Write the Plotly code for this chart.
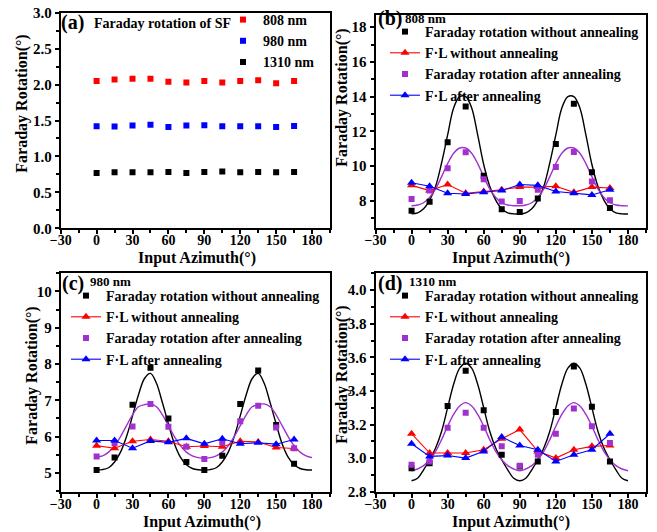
import plotly.graph_objects as go

W, H = 657, 532
FONT = "Liberation Serif"

# ---------------- data ----------------
angles = [0, 15, 30, 45, 60, 75, 90, 105, 120, 135, 150, 165]
fit_x = list(range(0, 181, 5))

# (a) Faraday rotation of SF
a_808 = [2.05, 2.07, 2.08, 2.08, 2.04, 2.03, 2.05, 2.03, 2.05, 2.06, 2.02, 2.05]
a_980 = [1.42, 1.415, 1.43, 1.44, 1.41, 1.43, 1.435, 1.42, 1.42, 1.42, 1.41, 1.425]
a_1310 = [0.77, 0.78, 0.78, 0.78, 0.785, 0.77, 0.785, 0.79, 0.78, 0.785, 0.78, 0.785]

# (b) 808 nm
b_fr_wo = [7.44, 7.96, 11.38, 13.43, 9.46, 7.52, 7.37, 8.15, 11.28, 13.59, 9.65, 7.6]
b_fl_wo = [8.9, 8.6, 8.95, 8.45, 8.55, 8.65, 8.8, 8.8, 8.85, 8.5, 8.8, 8.75]
b_fr_an = [8.12, 8.6, 9.88, 10.8, 9.25, 7.97, 8.0, 8.65, 9.95, 10.82, 9.12, 8.05]
b_fl_an = [9.05, 8.85, 8.45, 8.4, 8.5, 8.6, 8.95, 8.9, 8.55, 8.45, 8.35, 8.65]
b_fit_wo = [7.26, 7.32, 7.55, 8.05, 8.85, 10.2, 11.8, 13.35, 14.0, 14.0, 13.35, 11.8,
            10.1, 8.85, 8.05, 7.55, 7.32, 7.26, 7.26, 7.32, 7.55, 8.05, 8.85, 10.2,
            11.8, 13.35, 14.0, 14.0, 13.35, 11.8, 10.1, 8.85, 8.05, 7.55, 7.32, 7.26, 7.25]
b_fit_an = [7.73, 7.77, 7.9, 8.2, 8.7, 9.4, 10.15, 10.75, 11.05, 11.05, 10.75, 10.15,
            9.4, 8.7, 8.2, 7.9, 7.77, 7.73, 7.73, 7.77, 7.9, 8.2, 8.7, 9.4,
            10.15, 10.75, 11.05, 11.05, 10.75, 10.15, 9.4, 8.7, 8.2, 7.9, 7.77, 7.73, 7.72]

# (c) 980 nm
c_fr_wo = [5.08, 5.42, 6.88, 7.9, 6.5, 5.3, 5.08, 5.47, 6.9, 7.82, 6.32, 5.25]
c_fl_wo = [5.75, 5.68, 5.87, 5.92, 5.87, 5.72, 5.74, 5.72, 5.87, 5.85, 5.7, 5.67]
c_fr_an = [5.45, 5.82, 6.28, 6.9, 6.27, 5.72, 5.38, 5.83, 6.42, 6.85, 6.25, 5.68]
c_fl_an = [5.89, 5.89, 5.68, 5.88, 5.84, 5.95, 5.8, 5.94, 5.8, 5.83, 5.79, 5.92]
c_fit_wo = [5.08, 5.09, 5.14, 5.3, 5.57, 6.0, 6.57, 7.15, 7.6, 7.74, 7.47, 6.93,
            6.35, 5.8, 5.43, 5.22, 5.12, 5.085, 5.08, 5.09, 5.14, 5.3, 5.57, 6.0,
            6.57, 7.15, 7.6, 7.74, 7.47, 6.93, 6.35, 5.8, 5.43, 5.22, 5.12, 5.085, 5.08]
c_fit_an = [5.44, 5.47, 5.57, 5.75, 6.0, 6.3, 6.6, 6.82, 6.88, 6.9, 6.82, 6.6,
            6.3, 6.0, 5.75, 5.57, 5.47, 5.42, 5.4, 5.42, 5.47, 5.57, 5.75, 6.0,
            6.3, 6.6, 6.82, 6.88, 6.9, 6.82, 6.6, 6.3, 6.0, 5.75, 5.57, 5.47, 5.42]

# (d) 1310 nm
d_fr_wo = [2.94, 2.97, 3.31, 3.52, 3.285, 3.02, 2.95, 2.98, 3.275, 3.545, 3.305, 2.98]
d_fl_wo = [3.145, 3.03, 3.03, 3.03, 3.05, 3.115, 3.17, 3.04, 3.0, 3.05, 3.07, 3.075]
d_fr_an = [2.96, 2.98, 3.18, 3.27, 3.18, 3.07, 2.955, 3.02, 3.145, 3.295, 3.19, 3.09]
d_fl_an = [3.085, 3.01, 3.015, 3.0, 3.04, 3.125, 3.075, 3.05, 2.98, 3.02, 3.05, 3.145]
d_fit_wo = [2.865, 2.88, 2.93, 2.99, 3.06, 3.16, 3.3, 3.44, 3.535, 3.565, 3.535, 3.44,
            3.3, 3.16, 3.06, 2.99, 2.93, 2.88, 2.865, 2.88, 2.93, 2.99, 3.06, 3.16,
            3.3, 3.44, 3.535, 3.565, 3.535, 3.44, 3.3, 3.16, 3.06, 2.99, 2.93, 2.88, 2.865]
d_fit_an = [2.925, 2.935, 2.955, 2.99, 3.04, 3.11, 3.19, 3.26, 3.31, 3.33, 3.31, 3.26,
            3.19, 3.11, 3.04, 2.99, 2.955, 2.935, 2.925, 2.935, 2.955, 2.99, 3.04, 3.11,
            3.19, 3.26, 3.31, 3.33, 3.31, 3.26, 3.19, 3.11, 3.04, 2.99, 2.955, 2.935, 2.925]

series_names = ["Faraday rotation without annealing", "F\u00b7L without annealing",
                "Faraday rotation after annealing", "F\u00b7L after annealing"]
a_names = ["808 nm", "980 nm", "1310 nm"]

RED, BLUE, BLACK, PURPLE = "#FF0000", "#0000FF", "#000000", "#A030D0"

fig = go.Figure()

for name, vals, col in zip(a_names, [a_808, a_980, a_1310], [RED, BLUE, BLACK]):
    fig.add_trace(go.Scatter(x=angles, y=vals, mode="markers", name=name,
                             marker=dict(symbol="square", size=6, color=col),
                             xaxis="x", yaxis="y", legend="legend"))

panels = [
    ("x2", "y2", "legend2", b_fr_wo, b_fl_wo, b_fr_an, b_fl_an, b_fit_wo, b_fit_an),
    ("x3", "y3", "legend3", c_fr_wo, c_fl_wo, c_fr_an, c_fl_an, c_fit_wo, c_fit_an),
    ("x4", "y4", "legend4", d_fr_wo, d_fl_wo, d_fr_an, d_fl_an, d_fit_wo, d_fit_an),
]
for xa, ya, lg, fr_wo, fl_wo, fr_an, fl_an, fit_wo, fit_an in panels:
    fig.add_trace(go.Scatter(x=fit_x, y=fit_wo, mode="lines", line=dict(color=BLACK, width=1.4, shape="spline"),
                             showlegend=False, xaxis=xa, yaxis=ya))
    fig.add_trace(go.Scatter(x=fit_x, y=fit_an, mode="lines", line=dict(color=PURPLE, width=1.4, shape="spline"),
                             showlegend=False, xaxis=xa, yaxis=ya))
    fig.add_trace(go.Scatter(x=angles, y=fr_wo, mode="markers", name=series_names[0],
                             marker=dict(symbol="square", size=6, color=BLACK),
                             xaxis=xa, yaxis=ya, legend=lg))
    fig.add_trace(go.Scatter(x=angles, y=fl_wo, mode="lines+markers", name=series_names[1],
                             line=dict(color=RED, width=1.1),
                             marker=dict(symbol="triangle-up", size=8, color=RED),
                             xaxis=xa, yaxis=ya, legend=lg))
    fig.add_trace(go.Scatter(x=angles, y=fr_an, mode="markers", name=series_names[2],
                             marker=dict(symbol="square", size=6, color=PURPLE),
                             xaxis=xa, yaxis=ya, legend=lg))
    fig.add_trace(go.Scatter(x=angles, y=fl_an, mode="lines+markers", name=series_names[3],
                             line=dict(color=BLUE, width=1.1),
                             marker=dict(symbol="triangle-up", size=8, color=BLUE),
                             xaxis=xa, yaxis=ya, legend=lg))


def px(x):
    return x / W


def py(y):
    return 1 - y / H


tickfont = dict(family=FONT, size=15, color="black", weight="bold")
xtickfont = dict(family=FONT, size=14, color="black", weight="bold")
LW = 2


def xaxis(dom, anchor):
    return dict(domain=dom, anchor=anchor, range=[-30, 195], tickmode="linear", tick0=-30, dtick=30,
                showline=True, linecolor="#000000", linewidth=LW, mirror=True,
                ticks="outside", ticklen=4, tickwidth=LW, tickcolor="#000000", ticklabelstandoff=-6,
                minor=dict(ticks="outside", ticklen=3, tickcolor="#000000", tickwidth=1.5, dtick=15, tick0=-30),
                tickfont=xtickfont, showgrid=False, zeroline=False)


def yaxis(dom, anchor, rng, dtick, mdtick, fmt):
    return dict(domain=dom, anchor=anchor, range=rng, tickmode="linear", dtick=dtick, tick0=0, tickformat=fmt,
                showline=True, linecolor="#000000", linewidth=LW, mirror=True,
                ticks="outside", ticklen=4, tickwidth=LW, tickcolor="#000000",
                minor=dict(ticks="outside", ticklen=3, tickcolor="#000000", tickwidth=1.5, dtick=mdtick, tick0=0),
                tickfont=tickfont, showgrid=False, zeroline=False)


xa_dom = [px(60.7), px(330)]
xb_dom = [px(375.5), px(646)]
top_a = [py(228.3), py(12.7)]
top_b = [py(228.3), py(15)]
bot = [py(491.7), py(273.3)]

legfont = dict(family=FONT, size=14, color="black", weight="bold")


def legend(x, y):
    return dict(x=px(x), y=py(y), xanchor="left", yanchor="top", font=legfont,
                bgcolor="rgba(0,0,0,0)", borderwidth=0, tracegroupgap=0, itemwidth=30)


fig.update_layout(
    width=W, height=H, margin=dict(l=0, r=0, t=0, b=0, pad=0, autoexpand=False),
    paper_bgcolor="white", plot_bgcolor="white",
    xaxis=xaxis(xa_dom, "y"), yaxis=yaxis(top_a, "x", [0, 3.0], 0.5, 0.25, ".1f"),
    xaxis2=xaxis(xb_dom, "y2"), yaxis2=yaxis(top_b, "x2", [6.43, 18.7], 2, 1, "d"),
    xaxis3=xaxis(xa_dom, "y3"), yaxis3=yaxis(bot, "x3", [4.48, 10.5], 1, 0.5, "d"),
    xaxis4=xaxis(xb_dom, "y4"), yaxis4=yaxis(bot, "x4", [2.8, 4.1], 0.2, 0.1, ".1f"),
    legend=legend(223, 4),
    legend2=legend(385, 16),
    legend3=legend(66, 280),
    legend4=legend(385, 280),
    showlegend=True,
)

ann = []


def txt(x, y, s, size, angle=0):
    ann.append(dict(x=px(x), y=py(y), xref="paper", yref="paper", text=s, showarrow=False,
                    xanchor="center", yanchor="middle", textangle=angle,
                    font=dict(family=FONT, size=size, color="black", weight="bold")))


txt(197, 258, "Input Azimuth(\u00b0)", 16)
txt(511, 258, "Input Azimuth(\u00b0)", 16)
txt(202, 521.5, "Input Azimuth(\u00b0)", 16)
txt(511, 521.5, "Input Azimuth(\u00b0)", 16)
txt(21.7, 104, "Faraday Rotation(\u00b0)", 16, -90)
txt(341.7, 98, "Faraday Rotation(\u00b0)", 16, -90)
txt(31.7, 376, "Faraday Rotation(\u00b0)", 16, -90)
txt(341.7, 375, "Faraday Rotation(\u00b0)", 16, -90)
txt(72, 22.7, "(a)", 20)
txt(162.5, 23.3, "Faraday rotation of SF", 14)
txt(390, 19, "(b)", 20)
txt(425, 18, "808 nm", 13)
txt(72.5, 283.3, "(c)", 20)
txt(110.5, 281.7, "980 nm", 13)
txt(390, 283.3, "(d)", 20)
txt(432, 281, "1310 nm", 13)

fig.update_layout(annotations=ann)
fig.write_html("out.html", config={"displayModeBar": False},
               post_script="document.body.style.margin='0px';")
